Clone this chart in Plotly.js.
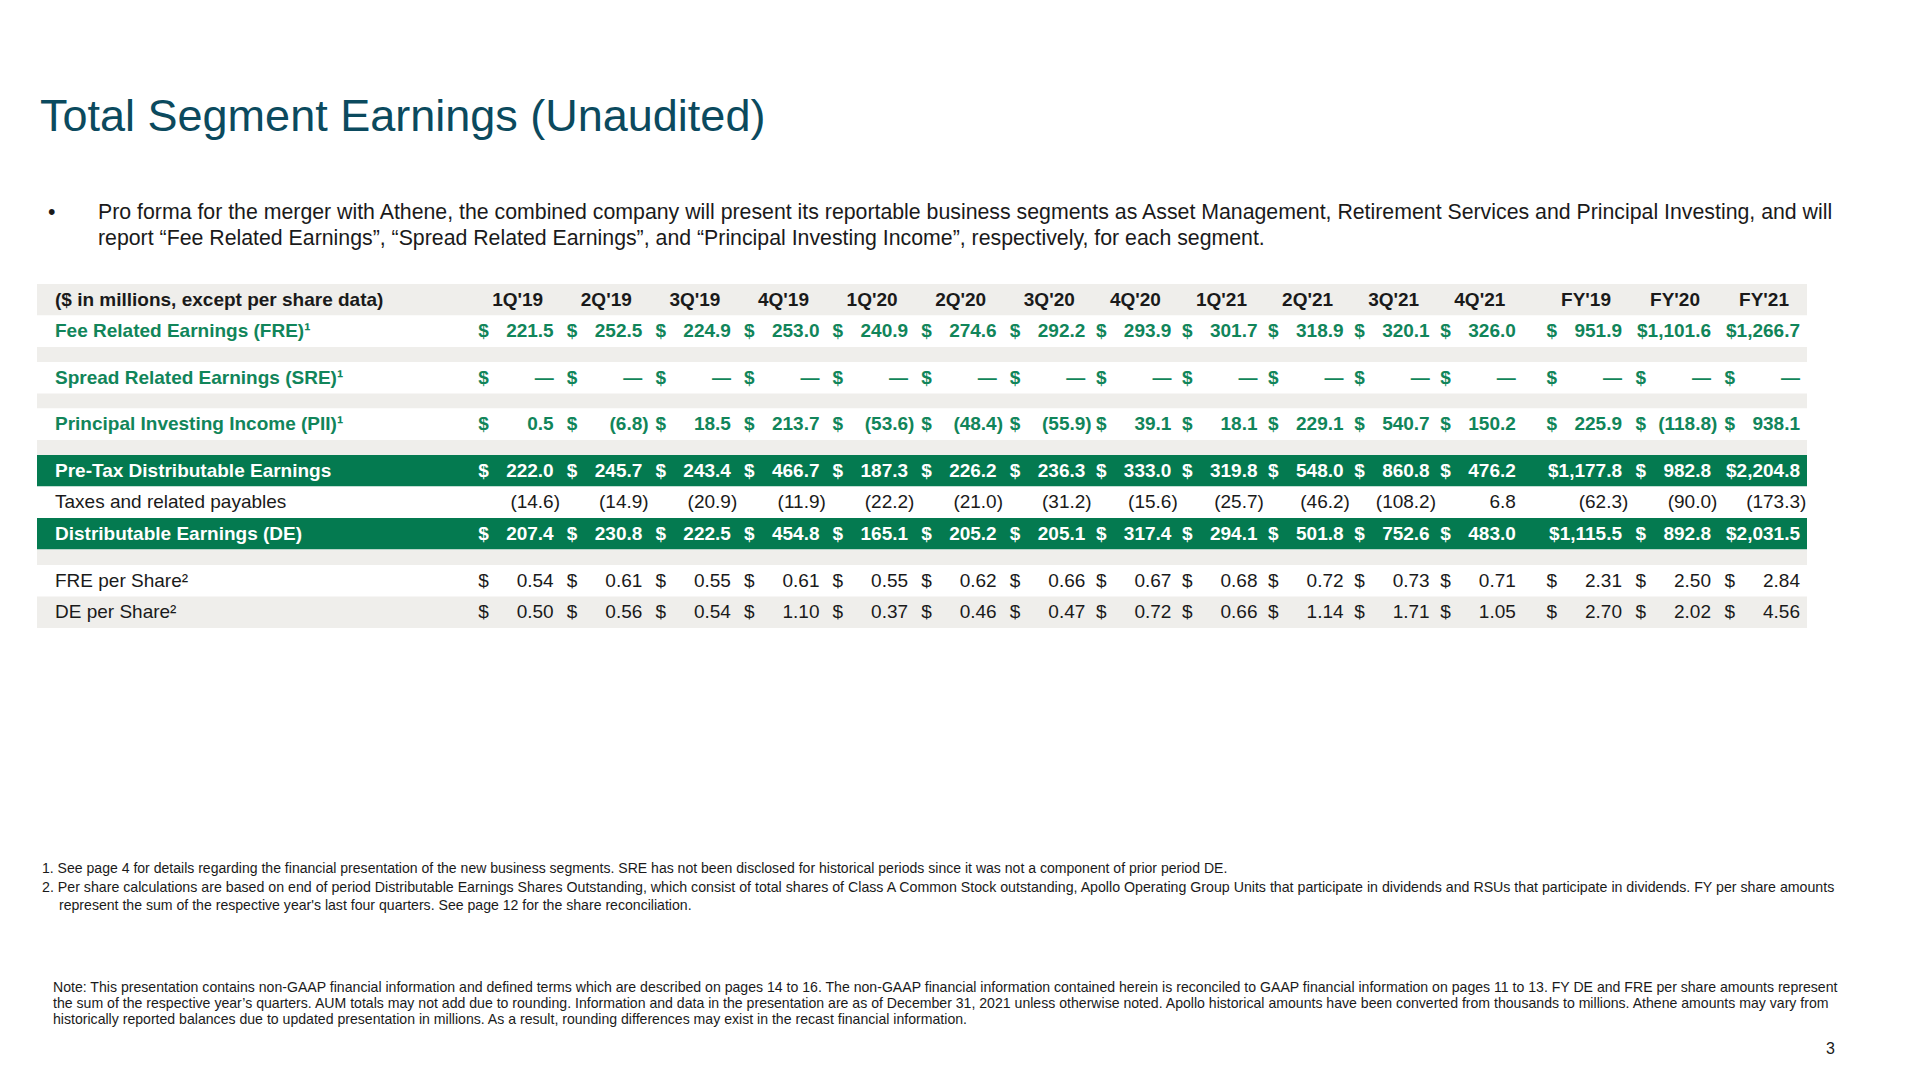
<!DOCTYPE html>
<html>
<head>
<meta charset="utf-8">
<script src="https://cdn.plot.ly/plotly-3.0.1.min.js"></script>
<style>
  html, body { margin: 0; padding: 0; background: #ffffff; }
  #chart { width: 1920px; height: 1080px; }
</style>
</head>
<body>
<div id="chart"></div>
<script>
// ---------------- DATA ----------------
const COLUMNS = ["1Q'19", "2Q'19", "3Q'19", "4Q'19", "1Q'20", "2Q'20", "3Q'20", "4Q'20",
                 "1Q'21", "2Q'21", "3Q'21", "4Q'21", "FY'19", "FY'20", "FY'21"];
const HEADER_LABEL = "($ in millions, except per share data)";
const ROW_LABELS = ["Fee Related Earnings (FRE)", "Spread Related Earnings (SRE)", "Principal Investing Income (PII)",
                    "Pre-Tax Distributable Earnings", "Taxes and related payables", "Distributable Earnings (DE)",
                    "FRE per Share", "DE per Share"];
const ROW_NOTES = ["\u00b9", "\u00b9", "\u00b9", "", "", "", "\u00b2", "\u00b2"];

const FRE    = [221.5, 252.5, 224.9, 253.0, 240.9, 274.6, 292.2, 293.9, 301.7, 318.9, 320.1, 326.0, 951.9, 1101.6, 1266.7];
const SRE    = [0, 0, 0, 0, 0, 0, 0, 0, 0, 0, 0, 0, 0, 0, 0];
const PII    = [0.5, -6.8, 18.5, 213.7, -53.6, -48.4, -55.9, 39.1, 18.1, 229.1, 540.7, 150.2, 225.9, -118.8, 938.1];
const PRETAX = [222.0, 245.7, 243.4, 466.7, 187.3, 226.2, 236.3, 333.0, 319.8, 548.0, 860.8, 476.2, 1177.8, 982.8, 2204.8];
const TAXES  = [-14.6, -14.9, -20.9, -11.9, -22.2, -21.0, -31.2, -15.6, -25.7, -46.2, -108.2, 6.8, -62.3, -90.0, -173.3];
const DE     = [207.4, 230.8, 222.5, 454.8, 165.1, 205.2, 205.1, 317.4, 294.1, 501.8, 752.6, 483.0, 1115.5, 892.8, 2031.5];
const FRE_PS = [0.54, 0.61, 0.55, 0.61, 0.55, 0.62, 0.66, 0.67, 0.68, 0.72, 0.73, 0.71, 2.31, 2.50, 2.84];
const DE_PS  = [0.50, 0.56, 0.54, 1.10, 0.37, 0.46, 0.47, 0.72, 0.66, 1.14, 1.71, 1.05, 2.70, 2.02, 4.56];

const TITLE = "Total Segment Earnings (Unaudited)";
const BULLET_LINES = [
  "Pro forma for the merger with Athene, the combined company will present its reportable business segments as Asset Management, Retirement Services and Principal Investing, and will",
  "report \u201cFee Related Earnings\u201d, \u201cSpread Related Earnings\u201d, and \u201cPrincipal Investing Income\u201d, respectively, for each segment."
];
const FOOTNOTES = [
  "1. See page 4 for details regarding the financial presentation of the new business segments. SRE has not been disclosed for historical periods since it was not a component of prior period DE.",
  "2. Per share calculations are based on end of period Distributable Earnings Shares Outstanding, which consist of total shares of Class A Common Stock outstanding, Apollo Operating Group Units that participate in dividends and RSUs that participate in dividends. FY per share amounts",
  "represent the sum of the respective year's last four quarters. See page 12 for the share reconciliation."
];
const NOTE_LINES = [
  "Note: This presentation contains non-GAAP financial information and defined terms which are described on pages 14 to 16. The non-GAAP financial information contained herein is reconciled to GAAP financial information on pages 11 to 13. FY DE and FRE per share amounts represent",
  "the sum of the respective year\u2019s quarters. AUM totals may not add due to rounding. Information and data in the presentation are as of December 31, 2021 unless otherwise noted. Apollo historical amounts have been converted from thousands to millions. Athene amounts may vary from",
  "historically reported balances due to updated presentation in millions. As a result, rounding differences may exist in the recast financial information."
];
const PAGE_NUMBER = "3";

// ---------------- STYLE / LAYOUT ----------------
const FONT = 'Arial, "Liberation Sans", sans-serif';
const C_TITLE = "#0b4a5e";
const C_GREEN_TEXT = "#11855a";
const C_GREEN_BAND = "#047a50";
const C_GRAY = "#efeeeb";
const C_WHITE = "#ffffff";
const C_BLACK = "#1a1a1a";

const FS = 19;                 // table font size
const TEXT_DY = 1;             // small vertical nudge of cell text
const TABLE_LEFT = 37, TABLE_RIGHT = 1807, TABLE_TOP = 284;
const LABEL_X = 55;
const ROW_H = 31.5;
const FIRST_RIGHT = 553.7;     // right edge of digits, first column
const COL_STEPS = [88.6, 88.6, 88.6, 88.6, 88.6, 88.6, 86.1, 86.1, 86.1, 86.1, 86.1, 106.2, 89, 89];
const DOLLAR_OFFSET = 75.5;    // distance from digits' right edge to "$" left edge
const HEADER_OFFSET = 36;      // distance from digits' right edge to header centre
const PAREN_W = 0.333 * FS;    // hanging ")" width

const colRight = [FIRST_RIGHT];
COL_STEPS.forEach((s, i) => colRight.push(colRight[i] + s));

// row structure: header, data rows, and thin spacer rows
const ROWS = [
  {kind: "header", h: ROW_H, fill: C_GRAY},
  {kind: "data", series: FRE, li: 0, h: ROW_H, fill: C_WHITE, color: C_GREEN_TEXT, bold: true, dollar: true, dec: 1},
  {kind: "gap", h: 15, fill: C_GRAY},
  {kind: "data", series: SRE, li: 1, h: ROW_H, fill: C_WHITE, color: C_GREEN_TEXT, bold: true, dollar: true, dec: 1},
  {kind: "gap", h: 15, fill: C_GRAY},
  {kind: "data", series: PII, li: 2, h: ROW_H, fill: C_WHITE, color: C_GREEN_TEXT, bold: true, dollar: true, dec: 1},
  {kind: "gap", h: 15, fill: C_GRAY},
  {kind: "data", series: PRETAX, li: 3, h: ROW_H, fill: C_GREEN_BAND, color: C_WHITE, bold: true, dollar: true, dec: 1},
  {kind: "data", series: TAXES, li: 4, h: ROW_H, fill: C_WHITE, color: C_BLACK, bold: false, dollar: false, dec: 1},
  {kind: "data", series: DE, li: 5, h: ROW_H, fill: C_GREEN_BAND, color: C_WHITE, bold: true, dollar: true, dec: 1},
  {kind: "gap", h: 15.5, fill: C_GRAY},
  {kind: "data", series: FRE_PS, li: 6, h: ROW_H, fill: C_WHITE, color: C_BLACK, bold: false, dollar: true, dec: 2},
  {kind: "data", series: DE_PS, li: 7, h: ROW_H, fill: C_GRAY, color: C_BLACK, bold: false, dollar: true, dec: 2}
];
let yTop = TABLE_TOP;
ROWS.forEach(r => { r.yc = yTop + r.h / 2; r.ty = r.yc + TEXT_DY; yTop += r.h; });

function fmtNum(v, dec) {
  return Math.abs(v).toLocaleString("en-US", {minimumFractionDigits: dec, maximumFractionDigits: dec});
}

const traces = [];

// cell backgrounds as horizontal bars
traces.push({
  type: "bar", orientation: "h",
  y: ROWS.map(r => r.yc),
  x: ROWS.map(() => TABLE_RIGHT - TABLE_LEFT),
  base: ROWS.map(() => TABLE_LEFT),
  width: ROWS.map(r => r.h),
  marker: {color: ROWS.map(r => r.fill), line: {width: 0}},
  hoverinfo: "skip", showlegend: false
});

function textTrace(xs, ys, texts, pos, color, bold, size) {
  return {
    type: "scatter", mode: "text", x: xs, y: ys, text: texts, textposition: pos,
    textfont: {family: FONT, size: size || FS, color: color, weight: bold ? 700 : 400},
    hoverinfo: "skip", showlegend: false, cliponaxis: false
  };
}

// header row
const hdr = ROWS[0];
traces.push(textTrace([LABEL_X], [hdr.ty], [HEADER_LABEL], "middle right", C_BLACK, true));
traces.push(textTrace(COLUMNS.map((c, i) => colRight[i] - HEADER_OFFSET), COLUMNS.map(() => hdr.ty), COLUMNS, "middle center", C_BLACK, true));

// data rows
ROWS.filter(r => r.kind === "data").forEach(r => {
  traces.push(textTrace([LABEL_X], [r.ty], [ROW_LABELS[r.li] + ROW_NOTES[r.li]], "middle right", r.color, r.bold));

  const dX = [], dY = [], dT = [];
  const pX = [], pY = [], pT = [];
  const nX = [], nY = [], nT = [];
  r.series.forEach((v, i) => {
    const big = Math.abs(v) >= 1000;
    if (r.dollar && !big) { dX.push(colRight[i] - DOLLAR_OFFSET); dY.push(r.ty); dT.push("$"); }
    const prefix = (r.dollar && big) ? "$" : "";
    if (v === 0) { pX.push(colRight[i]); pY.push(r.ty); pT.push("\u2014"); }
    else if (v < 0) { nX.push(colRight[i] + PAREN_W); nY.push(r.ty); nT.push(prefix + "(" + fmtNum(v, r.dec) + ")"); }
    else { pX.push(colRight[i]); pY.push(r.ty); pT.push(prefix + fmtNum(v, r.dec)); }
  });
  if (dX.length) traces.push(textTrace(dX, dY, dT, "middle right", r.color, r.bold));
  if (pX.length) traces.push(textTrace(pX, pY, pT, "middle left", r.color, r.bold));
  if (nX.length) traces.push(textTrace(nX, nY, nT, "middle left", r.color, r.bold));
});

// ---------------- TEXT BLOCKS ----------------
function ann(x, y, text, size, color, xanchor) {
  return {
    xref: "x", yref: "y", x: x, y: y, text: text, showarrow: false,
    xanchor: xanchor || "left", yanchor: "middle", align: "left",
    font: {family: FONT, size: size, color: color}
  };
}
const BODY_FS = 21.3, NOTE_FS = 14.1;
const annotations = [
  ann(38, 115, TITLE, 45, C_TITLE),
  ann(46, 212, "\u2022", BODY_FS, C_BLACK),
  ann(96, 212, BULLET_LINES[0], BODY_FS, C_BLACK),
  ann(96, 237.5, BULLET_LINES[1], BODY_FS, C_BLACK),
  ann(40, 868, FOOTNOTES[0], 14.05, C_BLACK),
  ann(40, 886.5, FOOTNOTES[1], 14.2, C_BLACK),
  ann(57, 905, FOOTNOTES[2], NOTE_FS, C_BLACK),
  ann(51, 987, NOTE_LINES[0], NOTE_FS, C_BLACK),
  ann(51, 1003, NOTE_LINES[1], NOTE_FS, C_BLACK),
  ann(51, 1019, NOTE_LINES[2], NOTE_FS, C_BLACK),
  ann(1837, 1048, PAGE_NUMBER, 16, C_BLACK, "right")
];

const layout = {
  width: 1920, height: 1080,
  margin: {l: 0, r: 0, t: 0, b: 0, pad: 0},
  paper_bgcolor: "#ffffff", plot_bgcolor: "#ffffff",
  barmode: "overlay",
  xaxis: {range: [0, 1920], visible: false, fixedrange: true},
  yaxis: {range: [1080, 0], visible: false, fixedrange: true},
  showlegend: false,
  annotations: annotations,
  font: {family: FONT}
};

Plotly.newPlot("chart", traces, layout, {displayModeBar: false, staticPlot: true});
</script>
</body>
</html>
